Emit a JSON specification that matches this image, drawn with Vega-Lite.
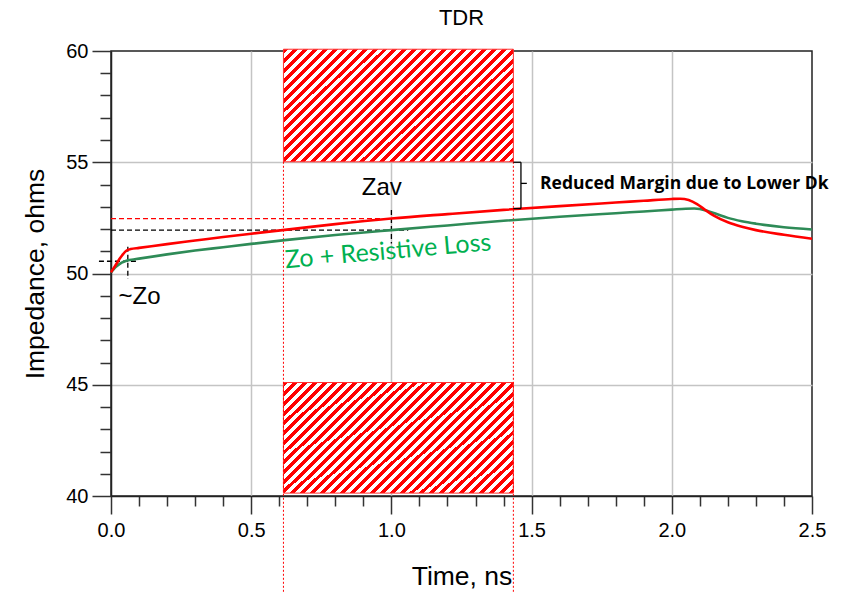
{
 "$schema": "https://vega.github.io/schema/vega-lite/v6.json",
 "width": 701,
 "height": 445,
 "autosize": {"type": "none"},
 "padding": {"left": 111, "top": 51, "right": 42, "bottom": 96},
 "background": "white",
 "title": {"text": "TDR", "fontSize": 22, "font": "Liberation Sans", "fontWeight": "normal", "offset": 11, "color": "black"},
 "config": {"view": {"stroke": "#222", "strokeWidth": 1.5}, "font": "Liberation Sans"},
 "datasets": {
  "curves": [
   {"t0": 0, "z0": 50.05, "s": "lower-dk"}, {"t0": 0.01, "z0": 50.25, "s": "lower-dk"}, {"t0": 0.02, "z0": 50.45, "s": "lower-dk"}, {"t0": 0.03, "z0": 50.65, "s": "lower-dk"}, {"t0": 0.04, "z0": 50.82, "s": "lower-dk"}, {"t0": 0.05, "z0": 50.97, "s": "lower-dk"}, {"t0": 0.06, "z0": 51.06, "s": "lower-dk"}, {"t0": 0.07, "z0": 51.1, "s": "lower-dk"}, {"t0": 0.1, "z0": 51.15, "s": "lower-dk"}, {"t0": 0.2, "z0": 51.32, "s": "lower-dk"}, {"t0": 0.3, "z0": 51.48, "s": "lower-dk"}, {"t0": 0.4, "z0": 51.64, "s": "lower-dk"}, {"t0": 0.5, "z0": 51.79, "s": "lower-dk"}, {"t0": 0.62, "z0": 51.96, "s": "lower-dk"}, {"t0": 0.8, "z0": 52.22, "s": "lower-dk"}, {"t0": 1.0, "z0": 52.47, "s": "lower-dk"}, {"t0": 1.2, "z0": 52.67, "s": "lower-dk"}, {"t0": 1.4, "z0": 52.86, "s": "lower-dk"}, {"t0": 1.6, "z0": 53.03, "s": "lower-dk"}, {"t0": 1.8, "z0": 53.19, "s": "lower-dk"}, {"t0": 1.9, "z0": 53.27, "s": "lower-dk"}, {"t0": 2.0, "z0": 53.35, "s": "lower-dk"}, {"t0": 2.03, "z0": 53.36, "s": "lower-dk"}, {"t0": 2.06, "z0": 53.3, "s": "lower-dk"}, {"t0": 2.09, "z0": 53.12, "s": "lower-dk"}, {"t0": 2.12, "z0": 52.85, "s": "lower-dk"}, {"t0": 2.15, "z0": 52.6, "s": "lower-dk"}, {"t0": 2.2, "z0": 52.3, "s": "lower-dk"}, {"t0": 2.25, "z0": 52.1, "s": "lower-dk"}, {"t0": 2.3, "z0": 51.95, "s": "lower-dk"}, {"t0": 2.4, "z0": 51.74, "s": "lower-dk"}, {"t0": 2.5, "z0": 51.56, "s": "lower-dk"},
   {"t0": 0, "z0": 50.05, "s": "lossy"}, {"t0": 0.01, "z0": 50.2, "s": "lossy"}, {"t0": 0.02, "z0": 50.32, "s": "lossy"}, {"t0": 0.03, "z0": 50.42, "s": "lossy"}, {"t0": 0.04, "z0": 50.5, "s": "lossy"}, {"t0": 0.05, "z0": 50.55, "s": "lossy"}, {"t0": 0.06, "z0": 50.59, "s": "lossy"}, {"t0": 0.08, "z0": 50.63, "s": "lossy"}, {"t0": 0.1, "z0": 50.67, "s": "lossy"}, {"t0": 0.2, "z0": 50.86, "s": "lossy"}, {"t0": 0.3, "z0": 51.03, "s": "lossy"}, {"t0": 0.4, "z0": 51.18, "s": "lossy"}, {"t0": 0.5, "z0": 51.33, "s": "lossy"}, {"t0": 0.62, "z0": 51.5, "s": "lossy"}, {"t0": 0.8, "z0": 51.73, "s": "lossy"}, {"t0": 1.0, "z0": 51.95, "s": "lossy"}, {"t0": 1.2, "z0": 52.16, "s": "lossy"}, {"t0": 1.4, "z0": 52.37, "s": "lossy"}, {"t0": 1.6, "z0": 52.55, "s": "lossy"}, {"t0": 1.8, "z0": 52.71, "s": "lossy"}, {"t0": 1.9, "z0": 52.79, "s": "lossy"}, {"t0": 2.0, "z0": 52.87, "s": "lossy"}, {"t0": 2.05, "z0": 52.91, "s": "lossy"}, {"t0": 2.08, "z0": 52.92, "s": "lossy"}, {"t0": 2.1, "z0": 52.9, "s": "lossy"}, {"t0": 2.13, "z0": 52.8, "s": "lossy"}, {"t0": 2.16, "z0": 52.67, "s": "lossy"}, {"t0": 2.2, "z0": 52.5, "s": "lossy"}, {"t0": 2.25, "z0": 52.35, "s": "lossy"}, {"t0": 2.3, "z0": 52.24, "s": "lossy"}, {"t0": 2.4, "z0": 52.08, "s": "lossy"}, {"t0": 2.5, "z0": 51.98, "s": "lossy"}
  ],
  "hatch": [
   {"t0": 0.615, "t1": 1.435, "z0": 55.02, "z1": 60.08},
   {"t0": 0.615, "t1": 1.435, "z0": 40.13, "z1": 45.1}
  ],
  "edges": [
   {"t0": 0.615, "z0": 55.02, "z1": 35.6},
   {"t0": 1.435, "z0": 55.02, "z1": 35.6}
  ],
  "refs": [
   {"t0": 0, "t1": 0.995, "z0": 52.47, "z1": 52.47, "ref": "lower-dk"},
   {"t0": 0, "t1": 1.06, "z0": 51.95, "z1": 51.95, "ref": "nominal"},
   {"t0": 1.0, "t1": 1.0, "z0": 52.85, "z1": 51.35, "ref": "nominal"},
   {"t0": -0.043, "t1": 0.096, "z0": 50.55, "z1": 50.55, "ref": "nominal"},
   {"t0": 0.06, "t1": 0.06, "z0": 51.2, "z1": 49.75, "ref": "nominal"}
  ],
  "bracket": [
   {"t0": 1.462, "t1": 1.462, "z0": 55.0, "z1": 52.92},
   {"t0": 1.435, "t1": 1.462, "z0": 55.0, "z1": 55.0},
   {"t0": 1.435, "t1": 1.462, "z0": 52.92, "z1": 52.92},
   {"t0": 1.462, "t1": 1.483, "z0": 54.05, "z1": 54.05}
  ],
  "notes": [
   {"t0": 0.966, "z0": 53.84, "label": "Zav", "kind": "plain"},
   {"t0": 0.102, "z0": 48.93, "label": "~Zo", "kind": "plain"},
   {"t0": 0.988, "z0": 51.0, "label": "Zo + Resistive Loss", "kind": "green"},
   {"t0": 1.53, "z0": 54.02, "label": "Reduced Margin due to Lower Dk", "kind": "bold"}
  ]
 },
 "encoding": {
  "x": {"field": "t0", "type": "quantitative", "title": "Time, ns",
   "scale": {"domain": [0, 2.5], "nice": false, "zero": false},
   "axis": {
    "values": [0,0.1,0.2,0.3,0.4,0.5,0.6,0.7,0.8,0.9,1.0,1.1,1.2,1.3,1.4,1.5,1.6,1.7,1.8,1.9,2.0,2.1,2.2,2.3,2.4,2.5],
    "format": ".1f",
    "labelExpr": "abs(datum.value*2 - round(datum.value*2)) < 0.001 ? datum.label : ''",
    "labelOverlap": false, "labelBound": false, "labelFlush": false,
    "labelFont": "Liberation Sans", "labelFontSize": 20, "labelColor": "black", "labelPadding": 6,
    "tickSize": {"condition": {"test": "abs(datum.value*2 - round(datum.value*2)) < 0.001", "value": 18}, "value": 10},
    "tickColor": "#333", "tickWidth": 1.5,
    "domainColor": "#222", "domainWidth": 1.5,
    "grid": true, "gridColor": "#c4c4c4", "gridWidth": 1.5,
    "gridOpacity": {"condition": {"test": "abs(datum.value*2 - round(datum.value*2)) < 0.001 && datum.value > 0.01 && datum.value < 2.49", "value": 1}, "value": 0},
    "titleFont": "Liberation Sans", "titleFontSize": 26.5, "titleFontWeight": "normal", "titleColor": "black", "titlePadding": 23
   }},
  "y": {"field": "z0", "type": "quantitative", "title": "Impedance, ohms",
   "scale": {"domain": [40, 60], "nice": false, "zero": false},
   "axis": {
    "values": [40,41,42,43,44,45,46,47,48,49,50,51,52,53,54,55,56,57,58,59,60],
    "labelExpr": "datum.value % 5 === 0 ? datum.label : ''",
    "labelOverlap": false, "labelBound": false, "labelFlush": false,
    "labelFont": "Liberation Sans", "labelFontSize": 20, "labelColor": "black", "labelPadding": 4,
    "tickSize": {"condition": {"test": "datum.value % 5 === 0", "value": 19}, "value": 11},
    "tickColor": "#333", "tickWidth": 1.5,
    "domainColor": "#222", "domainWidth": 1.5,
    "grid": true, "gridColor": "#c4c4c4", "gridWidth": 1.5,
    "gridOpacity": {"condition": {"test": "datum.value % 5 === 0 && datum.value > 40 && datum.value < 60", "value": 1}, "value": 0},
    "titleFont": "Liberation Sans", "titleFontSize": 26.5, "titleFontWeight": "normal", "titleColor": "black", "titlePadding": 16
   }}
 },
 "layer": [
  {
   "data": {"name": "hatch"},
   "mark": {"type": "rect", "stroke": "#ff3030", "strokeWidth": 1, "clip": false,
    "fill": {"gradient": "linear", "x1": 0, "y1": 0, "x2": 1.2, "y2": 0.59, "stops": [
{"offset":0,"color":"red"},{"offset":0.0145,"color":"red"},
{"offset":0.0145,"color":"white"},{"offset":0.029,"color":"white"},
{"offset":0.029,"color":"red"},{"offset":0.0435,"color":"red"},
{"offset":0.0435,"color":"white"},{"offset":0.058,"color":"white"},
{"offset":0.058,"color":"red"},{"offset":0.0725,"color":"red"},
{"offset":0.0725,"color":"white"},{"offset":0.087,"color":"white"},
{"offset":0.087,"color":"red"},{"offset":0.1015,"color":"red"},
{"offset":0.1015,"color":"white"},{"offset":0.116,"color":"white"},
{"offset":0.116,"color":"red"},{"offset":0.1305,"color":"red"},
{"offset":0.1305,"color":"white"},{"offset":0.145,"color":"white"},
{"offset":0.145,"color":"red"},{"offset":0.1595,"color":"red"},
{"offset":0.1595,"color":"white"},{"offset":0.174,"color":"white"},
{"offset":0.174,"color":"red"},{"offset":0.1885,"color":"red"},
{"offset":0.1885,"color":"white"},{"offset":0.203,"color":"white"},
{"offset":0.203,"color":"red"},{"offset":0.2175,"color":"red"},
{"offset":0.2175,"color":"white"},{"offset":0.232,"color":"white"},
{"offset":0.232,"color":"red"},{"offset":0.2465,"color":"red"},
{"offset":0.2465,"color":"white"},{"offset":0.261,"color":"white"},
{"offset":0.261,"color":"red"},{"offset":0.2755,"color":"red"},
{"offset":0.2755,"color":"white"},{"offset":0.29,"color":"white"},
{"offset":0.29,"color":"red"},{"offset":0.3045,"color":"red"},
{"offset":0.3045,"color":"white"},{"offset":0.319,"color":"white"},
{"offset":0.319,"color":"red"},{"offset":0.3335,"color":"red"},
{"offset":0.3335,"color":"white"},{"offset":0.348,"color":"white"},
{"offset":0.348,"color":"red"},{"offset":0.3625,"color":"red"},
{"offset":0.3625,"color":"white"},{"offset":0.377,"color":"white"},
{"offset":0.377,"color":"red"},{"offset":0.3915,"color":"red"},
{"offset":0.3915,"color":"white"},{"offset":0.406,"color":"white"},
{"offset":0.406,"color":"red"},{"offset":0.4205,"color":"red"},
{"offset":0.4205,"color":"white"},{"offset":0.435,"color":"white"},
{"offset":0.435,"color":"red"},{"offset":0.4495,"color":"red"},
{"offset":0.4495,"color":"white"},{"offset":0.464,"color":"white"},
{"offset":0.464,"color":"red"},{"offset":0.4785,"color":"red"},
{"offset":0.4785,"color":"white"},{"offset":0.493,"color":"white"},
{"offset":0.493,"color":"red"},{"offset":0.5075,"color":"red"},
{"offset":0.5075,"color":"white"},{"offset":0.522,"color":"white"},
{"offset":0.522,"color":"red"},{"offset":0.5365,"color":"red"},
{"offset":0.5365,"color":"white"},{"offset":0.551,"color":"white"},
{"offset":0.551,"color":"red"},{"offset":0.5655,"color":"red"},
{"offset":0.5655,"color":"white"},{"offset":0.58,"color":"white"},
{"offset":0.58,"color":"red"},{"offset":0.5945,"color":"red"},
{"offset":0.5945,"color":"white"},{"offset":0.609,"color":"white"},
{"offset":0.609,"color":"red"},{"offset":0.6235,"color":"red"},
{"offset":0.6235,"color":"white"},{"offset":0.638,"color":"white"},
{"offset":0.638,"color":"red"},{"offset":0.6525,"color":"red"},
{"offset":0.6525,"color":"white"},{"offset":0.667,"color":"white"},
{"offset":0.667,"color":"red"},{"offset":0.6815,"color":"red"},
{"offset":0.6815,"color":"white"},{"offset":0.696,"color":"white"},
{"offset":0.696,"color":"red"},{"offset":0.7105,"color":"red"},
{"offset":0.7105,"color":"white"},{"offset":0.725,"color":"white"},
{"offset":0.725,"color":"red"},{"offset":0.7395,"color":"red"},
{"offset":0.7395,"color":"white"},{"offset":0.754,"color":"white"},
{"offset":0.754,"color":"red"},{"offset":0.7685,"color":"red"},
{"offset":0.7685,"color":"white"},{"offset":0.783,"color":"white"},
{"offset":0.783,"color":"red"},{"offset":0.7975,"color":"red"},
{"offset":0.7975,"color":"white"},{"offset":0.812,"color":"white"},
{"offset":0.812,"color":"red"},{"offset":0.8265,"color":"red"},
{"offset":0.8265,"color":"white"},{"offset":0.841,"color":"white"},
{"offset":0.841,"color":"red"},{"offset":0.8555,"color":"red"},
{"offset":0.8555,"color":"white"},{"offset":0.87,"color":"white"},
{"offset":0.87,"color":"red"},{"offset":0.8845,"color":"red"},
{"offset":0.8845,"color":"white"},{"offset":0.899,"color":"white"},
{"offset":0.899,"color":"red"},{"offset":0.9135,"color":"red"},
{"offset":0.9135,"color":"white"},{"offset":0.928,"color":"white"},
{"offset":0.928,"color":"red"},{"offset":0.9425,"color":"red"},
{"offset":0.9425,"color":"white"},{"offset":0.957,"color":"white"},
{"offset":0.957,"color":"red"},{"offset":0.9715,"color":"red"},
{"offset":0.9715,"color":"white"},{"offset":0.986,"color":"white"},
{"offset":0.986,"color":"red"},{"offset":1,"color":"red"}
    ]}},
   "encoding": {"x2": {"field": "t1"}, "y2": {"field": "z1"}}
  },
  {
   "data": {"name": "edges"},
   "mark": {"type": "rule", "color": "#ff0000", "strokeWidth": 1, "strokeDash": [2, 2], "clip": false},
   "encoding": {"y2": {"field": "z1"}}
  },
  {
   "data": {"name": "refs"},
   "mark": {"type": "rule", "strokeWidth": 1.3, "strokeDash": [5, 3], "clip": false},
   "encoding": {
    "x2": {"field": "t1"},
    "y2": {"field": "z1"},
    "color": {"field": "ref", "type": "nominal", "scale": {"domain": ["lower-dk", "nominal"], "range": ["#ff0000", "#000000"]}, "legend": null}
   }
  },
  {
   "data": {"name": "curves"},
   "transform": [{"filter": "datum.s === 'lossy'"}],
   "mark": {"type": "line", "color": "#2e8b57", "strokeWidth": 2.6, "interpolate": "monotone"},
   "encoding": {}
  },
  {
   "data": {"name": "curves"},
   "transform": [{"filter": "datum.s === 'lower-dk'"}],
   "mark": {"type": "line", "color": "#ff0000", "strokeWidth": 2.6, "interpolate": "monotone"},
   "encoding": {}
  },
  {
   "data": {"name": "bracket"},
   "mark": {"type": "rule", "color": "#000000", "strokeWidth": 1.3, "clip": false},
   "encoding": {"x2": {"field": "t1"}, "y2": {"field": "z1"}}
  },
  {
   "data": {"name": "notes"},
   "transform": [{"filter": "datum.kind === 'plain'"}],
   "mark": {"type": "text", "font": "Liberation Sans", "fontSize": 24, "color": "black", "align": "center", "baseline": "middle", "clip": false},
   "encoding": {"text": {"field": "label"}}
  },
  {
   "data": {"name": "notes"},
   "transform": [{"filter": "datum.kind === 'green'"}],
   "mark": {"type": "text", "font": "Lato", "fontSize": 25, "color": "#00b050", "align": "center", "baseline": "middle", "angle": 355, "clip": false},
   "encoding": {"text": {"field": "label"}}
  },
  {
   "data": {"name": "notes"},
   "transform": [{"filter": "datum.kind === 'bold'"}],
   "mark": {"type": "text", "font": "Open Sans", "fontSize": 17.5, "fontWeight": "bold", "color": "black", "align": "left", "baseline": "middle", "clip": false},
   "encoding": {"text": {"field": "label"}}
  }
 ]
}
